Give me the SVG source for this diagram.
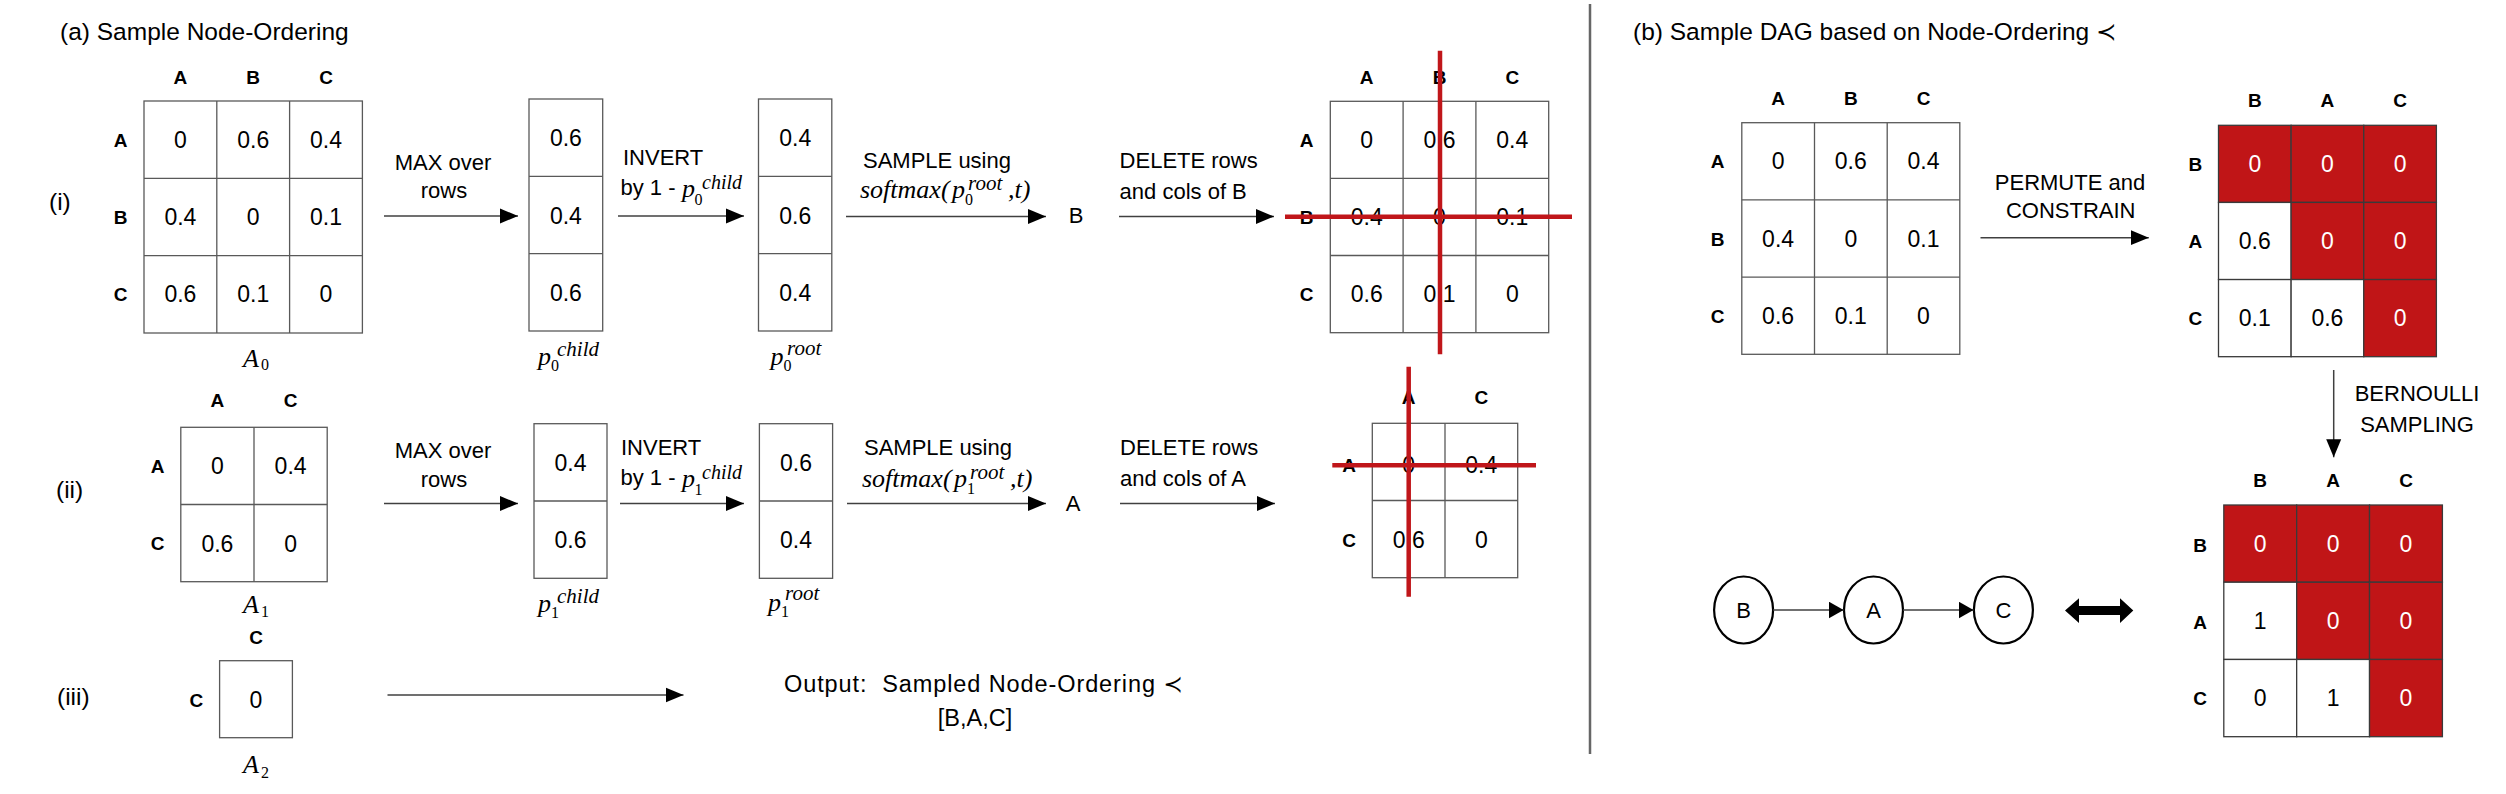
<svg xmlns="http://www.w3.org/2000/svg" width="2506" height="794" viewBox="0 0 2506 794">
<defs>
<style>
text{font-family:"Liberation Sans",Arial,"DejaVu Sans",sans-serif;fill:#000}
.g{fill:#fff;stroke:#595959;stroke-width:1.3}
.gl{stroke:#595959;stroke-width:1.3;fill:none}
.cr{fill:#C01517;stroke:#3a3a3a;stroke-width:1.3}
.cw{fill:#fff;stroke:#3a3a3a;stroke-width:1.3}
.v{font-size:23px;text-anchor:middle}
.vw{font-size:23px;text-anchor:middle;fill:#fff}
.h{font-size:19px;font-weight:bold;text-anchor:middle}
.t{font-size:22px}
.tc{font-size:22px;text-anchor:middle}
.ti{font-size:24.5px}
.m{font-family:"Liberation Serif","DejaVu Serif",serif;font-style:italic;font-size:26px}
.ms{font-family:"Liberation Serif","DejaVu Serif",serif;font-size:16px}
.mp{font-family:"Liberation Serif","DejaVu Serif",serif;font-style:italic;font-size:21px}
.mq{font-family:"Liberation Serif","DejaVu Serif",serif;font-style:italic;font-size:20px}
.red{stroke:#C0161A;stroke-width:4.5;fill:none}
.ar{stroke:#404040;stroke-width:1.5;fill:none;marker-end:url(#ah)}
.ar2{stroke:#404040;stroke-width:1.5;fill:none;marker-end:url(#ah2)}
.nd{fill:#fff;stroke:#000;stroke-width:2.2}
</style>
<marker id="ah" markerUnits="userSpaceOnUse" markerWidth="19" markerHeight="17" refX="18" refY="8" orient="auto"><path d="M0,0.5 L18,8 L0,15.5 z" fill="#000"/></marker>
<marker id="ah2" markerUnits="userSpaceOnUse" markerWidth="16" markerHeight="18" refX="15" refY="8.5" orient="auto"><path d="M0,0 L15,8.5 L0,17 z" fill="#000"/></marker>
</defs>
<rect x="0" y="0" width="2506" height="794" fill="#fff"/>

<!-- Titles and row labels -->
<g id="titles">
<text class="ti" x="60" y="40">(a) Sample Node-Ordering</text>
<text class="ti" x="1633" y="40">(b) Sample DAG based on Node-Ordering ≺</text>
<text class="ti" x="49" y="210">(i)</text>
<text class="ti" x="56" y="498">(ii)</text>
<text class="ti" x="57" y="705">(iii)</text>
<line x1="1590" y1="4" x2="1590" y2="754" stroke="#666" stroke-width="2.5"/>
</g>

<!-- Row (i) -->
<g id="m-A0">
<rect class="g" x="144" y="101" width="218.4" height="232"/>
<path class="gl" d="M216.8,101V333M289.6,101V333M144,178.33H362.4M144,255.67H362.4"/>
<text class="h" x="180.4" y="83.8">A</text><text class="h" x="253.2" y="83.8">B</text><text class="h" x="326" y="83.8">C</text>
<text class="h" x="120.5" y="146.7">A</text><text class="h" x="120.5" y="223.9">B</text><text class="h" x="120.5" y="301.3">C</text>
<text class="v" x="180.4" y="147.7">0</text><text class="v" x="253.2" y="147.7">0.6</text><text class="v" x="326" y="147.7">0.4</text>
<text class="v" x="180.4" y="225">0.4</text><text class="v" x="253.2" y="225">0</text><text class="v" x="326" y="225">0.1</text>
<text class="v" x="180.4" y="302.3">0.6</text><text class="v" x="253.2" y="302.3">0.1</text><text class="v" x="326" y="302.3">0</text>
<text class="m" x="243" y="367">A</text><text class="ms" x="261" y="370">0</text>
</g>

<g id="v-p0child">
<rect class="g" x="529" y="99" width="73.7" height="232"/>
<path class="gl" d="M529,176.3H602.7M529,253.7H602.7"/>
<text class="v" x="565.9" y="146">0.6</text><text class="v" x="565.9" y="223.5">0.4</text><text class="v" x="565.9" y="301">0.6</text>
<text class="m" x="538" y="365">p</text><text class="ms" x="551" y="371">0</text><text class="mp" x="557" y="356">child</text>
</g>

<g id="v-p0root">
<rect class="g" x="758.5" y="99" width="73.3" height="232"/>
<path class="gl" d="M758.5,176.3H831.8M758.5,253.7H831.8"/>
<text class="v" x="795.2" y="146">0.4</text><text class="v" x="795.2" y="223.5">0.6</text><text class="v" x="795.2" y="301">0.4</text>
<text class="m" x="770.5" y="365">p</text><text class="ms" x="783.5" y="371">0</text><text class="mp" x="787" y="355">root</text>
</g>

<g id="s-B">
<text class="tc" x="1076" y="223">B</text>
</g>

<g id="m-del0">
<rect class="g" x="1330.3" y="101.3" width="218.4" height="231.4"/>
<path class="gl" d="M1403.1,101.3V332.7M1475.9,101.3V332.7M1330.3,178.4H1548.7M1330.3,255.5H1548.7"/>
<text class="h" x="1366.7" y="83.8">A</text><text class="h" x="1439.5" y="83.8">B</text><text class="h" x="1512.3" y="83.8">C</text>
<text class="h" x="1306.7" y="146.7">A</text><text class="h" x="1306.7" y="223.9">B</text><text class="h" x="1306.7" y="301.3">C</text>
<text class="v" x="1366.7" y="147.8">0</text><text class="v" x="1439.5" y="147.8">0.6</text><text class="v" x="1512.3" y="147.8">0.4</text>
<text class="v" x="1366.7" y="225">0.4</text><text class="v" x="1439.5" y="225">0</text><text class="v" x="1512.3" y="225">0.1</text>
<text class="v" x="1366.7" y="302.2">0.6</text><text class="v" x="1439.5" y="302.2">0.1</text><text class="v" x="1512.3" y="302.2">0</text>
<path class="red" d="M1285,216.7H1572M1440,50.7V354.3"/>
</g>

<!-- Row (ii) -->
<g id="m-A1">
<rect class="g" x="180.8" y="427.3" width="146.4" height="154.4"/>
<path class="gl" d="M254,427.3V581.7M180.8,504.5H327.2"/>
<text class="h" x="217.4" y="406.7">A</text><text class="h" x="290.6" y="406.7">C</text>
<text class="h" x="157.6" y="472.8">A</text><text class="h" x="157.6" y="550.3">C</text>
<text class="v" x="217.4" y="474">0</text><text class="v" x="290.6" y="474">0.4</text>
<text class="v" x="217.4" y="551.5">0.6</text><text class="v" x="290.6" y="551.5">0</text>
<text class="m" x="243" y="613">A</text><text class="ms" x="261" y="617">1</text>
</g>

<g id="v-p1child">
<rect class="g" x="534" y="423.7" width="73" height="154.6"/>
<path class="gl" d="M534,501H607"/>
<text class="v" x="570.5" y="470.5">0.4</text><text class="v" x="570.5" y="548">0.6</text>
<text class="m" x="538" y="612">p</text><text class="ms" x="551" y="618">1</text><text class="mp" x="557" y="603">child</text>
</g>

<g id="v-p1root">
<rect class="g" x="759.4" y="423.7" width="73.2" height="154.6"/>
<path class="gl" d="M759.4,501H832.6"/>
<text class="v" x="796" y="470.5">0.6</text><text class="v" x="796" y="548">0.4</text>
<text class="m" x="768" y="611">p</text><text class="ms" x="781" y="617">1</text><text class="mp" x="785" y="600">root</text>
</g>

<g id="s-A">
<text class="tc" x="1073" y="511">A</text>
</g>

<g id="m-del1">
<rect class="g" x="1372.3" y="423.3" width="145.4" height="154.4"/>
<path class="gl" d="M1445,423.3V577.7M1372.3,500.5H1517.7"/>
<text class="h" x="1408.7" y="404.3">A</text><text class="h" x="1481.3" y="404.3">C</text>
<text class="h" x="1349" y="471.8">A</text><text class="h" x="1349" y="546.8">C</text>
<text class="v" x="1408.7" y="473">0</text><text class="v" x="1481.3" y="473">0.4</text>
<text class="v" x="1408.7" y="548">0.6</text><text class="v" x="1481.3" y="548">0</text>
<path class="red" d="M1332.3,465.3H1536M1408.7,366.7V596.7"/>
</g>

<!-- Row (iii) -->
<g id="m-A2">
<rect class="g" x="219.6" y="660.7" width="72.8" height="77"/>
<text class="h" x="256" y="643.7">C</text>
<text class="h" x="196.4" y="706.7">C</text>
<text class="v" x="256" y="707.5">0</text>
<text class="m" x="243" y="773">A</text><text class="ms" x="261" y="778">2</text>
</g>

<g id="output">
<text x="784" y="692" font-size="23.5" textLength="399">Output:&#160; Sampled Node-Ordering ≺</text>
<text x="975" y="726" font-size="23.5" text-anchor="middle">[B,A,C]</text>
</g>

<!-- Part (b) -->
<g id="m-P">
<rect class="g" x="1741.8" y="122.7" width="218" height="231.6"/>
<path class="gl" d="M1814.5,122.7V354.3M1887.2,122.7V354.3M1741.8,199.9H1959.8M1741.8,277.1H1959.8"/>
<text class="h" x="1778.1" y="105">A</text><text class="h" x="1850.8" y="105">B</text><text class="h" x="1923.5" y="105">C</text>
<text class="h" x="1717.6" y="168.3">A</text><text class="h" x="1717.6" y="245.5">B</text><text class="h" x="1717.6" y="322.7">C</text>
<text class="v" x="1778.1" y="169.3">0</text><text class="v" x="1850.8" y="169.3">0.6</text><text class="v" x="1923.5" y="169.3">0.4</text>
<text class="v" x="1778.1" y="246.5">0.4</text><text class="v" x="1850.8" y="246.5">0</text><text class="v" x="1923.5" y="246.5">0.1</text>
<text class="v" x="1778.1" y="323.7">0.6</text><text class="v" x="1850.8" y="323.7">0.1</text><text class="v" x="1923.5" y="323.7">0</text>
</g>

<g id="m-Q">
<rect class="cr" x="2218.5" y="125.3" width="72.63" height="77.13"/>
<rect class="cr" x="2291.13" y="125.3" width="72.63" height="77.13"/>
<rect class="cr" x="2363.76" y="125.3" width="72.63" height="77.13"/>
<rect class="cw" x="2218.5" y="202.43" width="72.63" height="77.13"/>
<rect class="cr" x="2291.13" y="202.43" width="72.63" height="77.13"/>
<rect class="cr" x="2363.76" y="202.43" width="72.63" height="77.13"/>
<rect class="cw" x="2218.5" y="279.56" width="72.63" height="77.13"/>
<rect class="cw" x="2291.13" y="279.56" width="72.63" height="77.13"/>
<rect class="cr" x="2363.76" y="279.56" width="72.63" height="77.13"/>
<text class="h" x="2254.8" y="106.7">B</text><text class="h" x="2327.4" y="106.7">A</text><text class="h" x="2400.1" y="106.7">C</text>
<text class="h" x="2195.4" y="170.7">B</text><text class="h" x="2195.4" y="247.8">A</text><text class="h" x="2195.4" y="324.9">C</text>
<text class="vw" x="2254.8" y="171.9">0</text><text class="vw" x="2327.4" y="171.9">0</text><text class="vw" x="2400.1" y="171.9">0</text>
<text class="v" x="2254.8" y="249">0.6</text><text class="vw" x="2327.4" y="249">0</text><text class="vw" x="2400.1" y="249">0</text>
<text class="v" x="2254.8" y="326.1">0.1</text><text class="v" x="2327.4" y="326.1">0.6</text><text class="vw" x="2400.1" y="326.1">0</text>
</g>

<g id="m-R">
<rect class="cr" x="2223.8" y="505" width="72.87" height="77.23"/>
<rect class="cr" x="2296.67" y="505" width="72.87" height="77.23"/>
<rect class="cr" x="2369.54" y="505" width="72.87" height="77.23"/>
<rect class="cw" x="2223.8" y="582.23" width="72.87" height="77.23"/>
<rect class="cr" x="2296.67" y="582.23" width="72.87" height="77.23"/>
<rect class="cr" x="2369.54" y="582.23" width="72.87" height="77.23"/>
<rect class="cw" x="2223.8" y="659.46" width="72.87" height="77.23"/>
<rect class="cw" x="2296.67" y="659.46" width="72.87" height="77.23"/>
<rect class="cr" x="2369.54" y="659.46" width="72.87" height="77.23"/>
<text class="h" x="2260.2" y="486.7">B</text><text class="h" x="2333.1" y="486.7">A</text><text class="h" x="2406" y="486.7">C</text>
<text class="h" x="2200" y="551.7">B</text><text class="h" x="2200" y="628.5">A</text><text class="h" x="2200" y="705">C</text>
<text class="vw" x="2260.2" y="551.6">0</text><text class="vw" x="2333.1" y="551.6">0</text><text class="vw" x="2406" y="551.6">0</text>
<text class="v" x="2260.2" y="628.8">1</text><text class="vw" x="2333.1" y="628.8">0</text><text class="vw" x="2406" y="628.8">0</text>
<text class="v" x="2260.2" y="706">0</text><text class="v" x="2333.1" y="706">1</text><text class="vw" x="2406" y="706">0</text>
</g>

<g id="n-B"><ellipse class="nd" cx="1743.6" cy="610" rx="29.5" ry="33.5"/><text class="tc" x="1743.6" y="617.5" font-size="21">B</text></g>
<g id="n-A"><ellipse class="nd" cx="1873.5" cy="610" rx="29.5" ry="33.5"/><text class="tc" x="1873.5" y="617.5" font-size="21">A</text></g>
<g id="n-C"><ellipse class="nd" cx="2003.4" cy="610" rx="29.5" ry="33.5"/><text class="tc" x="2003.4" y="617.5" font-size="21">C</text></g>

<!-- Connectors -->
<g id="connectors">
<line class="ar" x1="384" y1="216" x2="518" y2="216"/>
<line class="ar" x1="618" y1="216" x2="744" y2="216"/>
<line class="ar" x1="846" y1="216.5" x2="1046" y2="216.5"/>
<line class="ar" x1="1119" y1="216.5" x2="1274" y2="216.5"/>
<line class="ar" x1="384" y1="503.5" x2="518" y2="503.5"/>
<line class="ar" x1="620" y1="503.5" x2="744" y2="503.5"/>
<line class="ar" x1="847" y1="503.5" x2="1046" y2="503.5"/>
<line class="ar" x1="1120" y1="503.5" x2="1275" y2="503.5"/>
<line class="ar" x1="387.5" y1="695" x2="683.5" y2="695"/>
<line class="ar" x1="1980.5" y1="237.7" x2="2148.8" y2="237.7"/>
<line class="ar" x1="2333.7" y1="370" x2="2333.7" y2="457.3"/>
<line class="ar2" x1="1773.1" y1="610" x2="1843.6" y2="610"/>
<line class="ar2" x1="1903" y1="610" x2="1973.5" y2="610"/>
<polygon points="2065,610.5 2079,598.3 2079,606 2120,606 2120,598.3 2133.3,610.5 2120,623 2120,615 2079,615 2079,623" fill="#000"/>
</g>

<!-- Connector labels -->
<g id="labels">
<text class="tc" x="443" y="170">MAX over</text>
<text class="tc" x="444" y="198">rows</text>
<text class="t" x="623" y="165">INVERT</text>
<text class="t" x="620.5" y="195">by 1 - </text>
<text class="m" x="682" y="197">p</text><text class="ms" x="694.5" y="205">0</text><text class="mq" x="702" y="189">child</text>
<text class="tc" x="937" y="168">SAMPLE using</text>
<text class="m" x="860" y="198">softmax(</text><text class="m" x="952" y="198">p</text><text class="ms" x="965" y="205">0</text><text class="mp" x="968" y="190">root</text><text class="m" x="1008" y="198">,t)</text>
<text class="t" x="1119.6" y="168">DELETE rows</text>
<text class="t" x="1119.6" y="199">and cols of B</text>

<text class="tc" x="443" y="458">MAX over</text>
<text class="tc" x="444" y="487">rows</text>
<text class="t" x="621" y="455">INVERT</text>
<text class="t" x="620.5" y="485">by 1 - </text>
<text class="m" x="682" y="487">p</text><text class="ms" x="694.5" y="495">1</text><text class="mq" x="702" y="479">child</text>
<text class="tc" x="938" y="455">SAMPLE using</text>
<text class="m" x="862" y="487">softmax(</text><text class="m" x="954" y="487">p</text><text class="ms" x="967" y="494">1</text><text class="mp" x="970" y="479">root</text><text class="m" x="1010" y="487">,t)</text>
<text class="t" x="1120" y="455">DELETE rows</text>
<text class="t" x="1120" y="486">and cols of A</text>

<text class="tc" x="2070" y="190">PERMUTE and</text>
<text class="tc" x="2070.7" y="218">CONSTRAIN</text>
<text class="tc" x="2417" y="401">BERNOULLI</text>
<text class="tc" x="2417" y="432">SAMPLING</text>
</g>
</svg>
